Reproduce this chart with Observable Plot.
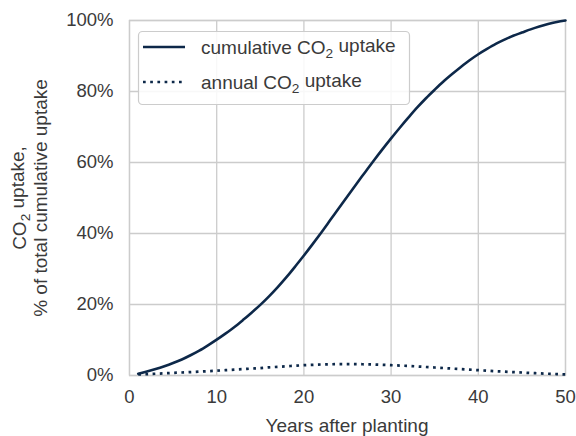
<!DOCTYPE html>
<html><head><meta charset="utf-8">
<script src="https://cdn.jsdelivr.net/npm/d3@7"></script>
<script src="https://cdn.jsdelivr.net/npm/@observablehq/plot@0.6"></script>
<style>body{margin:0;background:#fff} svg{display:block}</style>
</head><body><div id="chart"></div><script>
const years = [1,2,3,4,5,6,7,8,9,10,11,12,13,14,15,16,17,18,19,20,21,22,23,24,25,26,27,28,29,30,31,32,33,34,35,36,37,38,39,40,41,42,43,44,45,46,47,48,49,50];
const cumulative = [0.5,1.1,1.8,2.6,3.5,4.5,5.7,7.0,8.5,10.1,11.8,13.6,15.6,17.7,19.9,22.3,24.9,27.7,30.7,33.8,37.0,40.3,43.7,47.1,50.5,53.9,57.2,60.5,63.7,66.8,69.8,72.7,75.5,78.1,80.5,82.8,84.9,86.9,88.8,90.5,92.0,93.4,94.6,95.7,96.6,97.5,98.3,99.0,99.6,100];
const annual = [0.3,0.4,0.5,0.6,0.75,0.85,0.95,1.1,1.2,1.35,1.5,1.65,1.8,1.95,2.1,2.3,2.45,2.6,2.75,2.9,3.0,3.1,3.15,3.2,3.2,3.2,3.15,3.1,3.0,2.9,2.8,2.7,2.55,2.4,2.25,2.1,1.95,1.8,1.65,1.5,1.35,1.2,1.1,0.95,0.85,0.7,0.6,0.5,0.4,0.3];
const xTicks = [0,10,20,30,40,50];
const yTicks = [0,20,40,60,80,100];
const legendLabels = ["cumulative CO|2| uptake", "annual CO|2| uptake"];
const xLabel = "Years after planting";
const yLabelLines = ["CO|2| uptake,", "% of total cumulative uptake"];

const navy = "#0d2849";
const textColor = "#3a3a3a";
const font = "'Liberation Sans', Arial, Helvetica, sans-serif";
const cumData = years.map((y,i)=>({year:y, value:cumulative[i]}));
const annData = years.map((y,i)=>({year:y, value:annual[i]}));

const chart = Plot.plot({
  width: 576, height: 436,
  marginLeft: 129, marginRight: 11, marginTop: 20, marginBottom: 61,
  style: {fontFamily: font, fontSize: "18.5px", color: textColor, background: "#fff"},
  x: {domain: [0,50], ticks: xTicks, tickSize: 0, tickPadding: 14, label: null},
  y: {domain: [0,100], ticks: yTicks, tickSize: 0, tickPadding: 16, tickFormat: d => d + "%", label: null},
  marks: [
    Plot.gridX(xTicks, {stroke: "#cccccc", strokeOpacity: 1, strokeWidth: 1.3}),
    Plot.gridY(yTicks, {stroke: "#cccccc", strokeOpacity: 1, strokeWidth: 1.3}),
    Plot.frame({stroke: "#cccccc", strokeWidth: 1.3}),
    Plot.line(annData, {x: "year", y: "value", stroke: navy, strokeWidth: 2.7, strokeDasharray: "2.7,4.5", strokeLinecap: "butt", curve: "monotone-x"}),
    Plot.line(cumData, {x: "year", y: "value", stroke: navy, strokeWidth: 2.6, curve: "monotone-x"})
  ]
});
document.getElementById("chart").appendChild(chart);

const svg = d3.select(chart);
function addRich(sel, str) {
  const parts = str.split("|");
  parts.forEach((p, i) => {
    if (!p) return;
    const t = sel.append("tspan").text(p);
    if (i % 2 === 1) { t.attr("font-size", "72%").attr("dy", "0.3em"); }
    else if (i > 0) { t.attr("dy", "-0.3em"); }
  });
}
// x label
svg.append("text").attr("x", 347).attr("y", 432).attr("text-anchor", "middle")
  .attr("font-family", font).attr("font-size", 19).attr("fill", textColor).text(xLabel);
// y label
[26, 47].forEach((bx, i) => {
  const t = svg.append("text").attr("transform", `translate(${bx},198) rotate(-90)`)
    .attr("text-anchor", "middle").attr("font-family", font).attr("font-size", 19).attr("fill", textColor);
  addRich(t, yLabelLines[i]);
});
// legend
const lg = svg.append("g");
lg.append("rect").attr("x", 138.5).attr("y", 31.5).attr("width", 271).attr("height", 73).attr("rx", 4)
  .attr("fill", "#fff").attr("fill-opacity", 0.85).attr("stroke", "#cccccc").attr("stroke-width", 1.2);
[47, 82].forEach((ly, i) => {
  lg.append("line").attr("x1", 143).attr("x2", 185).attr("y1", ly).attr("y2", ly)
    .attr("stroke", navy).attr("stroke-width", i ? 2.7 : 2.6).attr("stroke-dasharray", i ? "2.7,4.5" : null);
  const t = lg.append("text").attr("x", 201).attr("y", ly).attr("dy", "0.35em").attr("text-anchor", "start")
    .attr("font-family", font).attr("font-size", 19).attr("fill", textColor);
  addRich(t, legendLabels[i]);
});
</script></body></html>
